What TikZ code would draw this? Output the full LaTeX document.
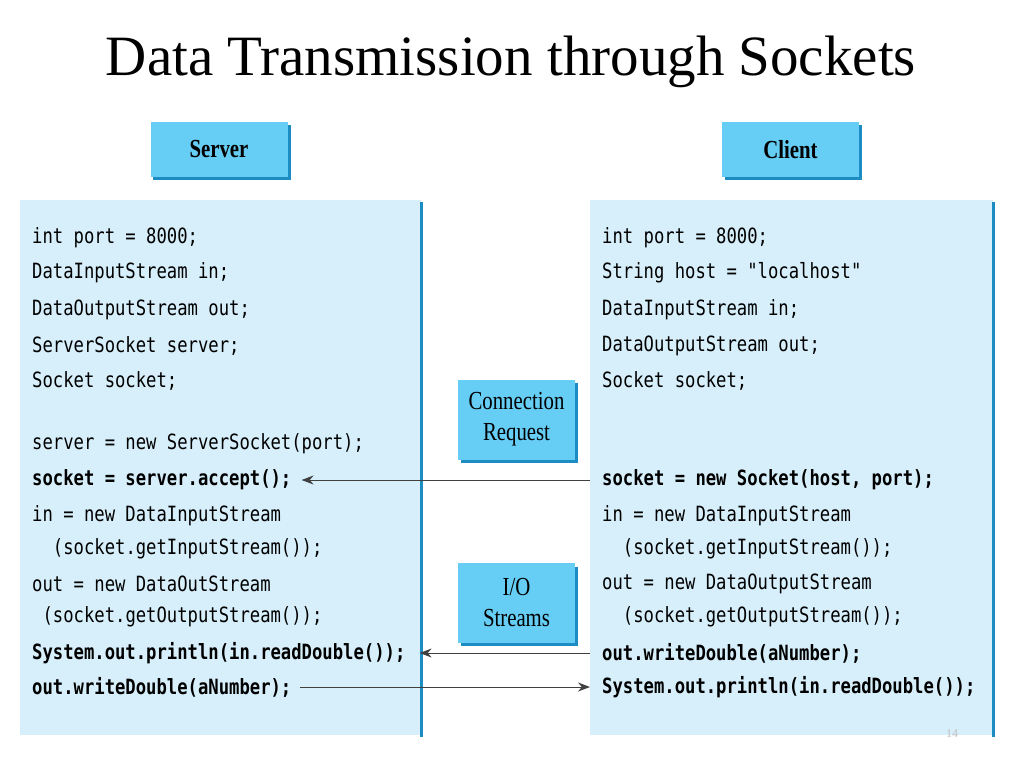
\documentclass[tikz,border=0pt]{standalone}
\usepackage{fontspec}
\setmainfont{Liberation Serif}
\newfontfamily\codefont{DejaVu Sans Mono}[FakeStretch=0.82]
\newfontfamily\boxfont{Liberation Serif}[FakeStretch=0.8]
\usetikzlibrary{arrows.meta}
\definecolor{panelblue}{HTML}{D6EFFB}
\definecolor{boxblue}{HTML}{66CDF5}
\definecolor{edgeblue}{HTML}{1C8CC2}
\newcommand{\codesize}{\fontsize{21}{21}\selectfont}

\begin{document}
\begin{tikzpicture}[x=1pt,y=-1pt,
    label box/.style={draw=none,fill=boxblue,minimum width=137,minimum height=55,
        inner sep=0pt,font=\boxfont\fontsize{26}{26}\selectfont\bfseries},
    mid box/.style={fill=boxblue,minimum width=117,minimum height=80,inner sep=0pt,
        align=center,font=\boxfont\fontsize{26}{31}\selectfont},
    code/.style={anchor=west,inner sep=0pt,font=\codefont\codesize},
    bold code/.style={code,font=\codefont\codesize\bfseries},
    link/.style={-{Stealth[length=12pt,width=9pt]},line width=1pt,draw=black!75}]
    \useasboundingbox (0,0) rectangle (1024,768);
    \node (title) at (511,62) {\fontsize{57}{57}\selectfont Data Transmission through Sockets};

    % header boxes
    \begin{scope}[every node/.style={label box}]
        \fill[edgeblue] (153,125) rectangle (291,180);
        \node (srv) at (219,149.5) {Server};
        \fill[edgeblue] (725,125) rectangle (862,180);
        \node (cli) at (790.5,149.5) {Client};
    \end{scope}

    % panels
    \fill[panelblue] (20,200) rectangle (421,735);
    \draw[edgeblue,line width=3pt] (421,202) -- (421,737);
    \fill[panelblue] (590,200) rectangle (993,735);
    \draw[edgeblue,line width=3pt] (993,202) -- (993,737);
    \coordinate (cpanel) at (590,0);

    % middle boxes
    \fill[edgeblue] (461,383) rectangle (578,463);
    \node[mid box] (req) at (516.5,419.5) {Connection\\Request};
    \fill[edgeblue] (461,567) rectangle (578,646);
    \node[mid box] (io) at (516.5,603) {I/O\\Streams};

    % server code
    \node[code] (s1) at (32,238) {int port = 8000;};
    \node[code] (s2) at (32,273) {DataInputStream in;};
    \node[code] (s3) at (32,310) {DataOutputStream out;};
    \node[code] (s4) at (32,346) {ServerSocket server;};
    \node[code] (s5) at (32,381) {Socket socket;};
    \node[code] (s6) at (32,444) {server = new ServerSocket(port);};
    \node[bold code] (s7) at (32,480) {socket = server.accept();};
    \node[code] (s8) at (32,516) {in = new DataInputStream};
    \node[code] (s9) at (32,549) {\ \ (socket.getInputStream());};
    \node[code] (s10) at (32,584) {out = new DataOutStream};
    \node[code] (s11) at (32,617) {\ (socket.getOutputStream());};
    \node[bold code] (s12) at (32,653) {System.out.println(in.readDouble());};
    \node[bold code] (s13) at (32,687) {out.writeDouble(aNumber);};

    % client code
    \node[code] (c1) at (602,238) {int port = 8000;};
    \node[code] (c2) at (602,273) {String host = "localhost"};
    \node[code] (c3) at (602,310) {DataInputStream in;};
    \node[code] (c4) at (602,346) {DataOutputStream out;};
    \node[code] (c5) at (602,381) {Socket socket;};
    \node[bold code] (c7) at (602,480) {socket = new Socket(host, port);};
    \node[code] (c8) at (602,516) {in = new DataInputStream};
    \node[code] (c9) at (602,549) {\ \ (socket.getInputStream());};
    \node[code] (c10) at (602,584) {out = new DataOutputStream};
    \node[code] (c11) at (602,617) {\ \ (socket.getOutputStream());};
    \node[bold code] (c12) at (602,653) {out.writeDouble(aNumber);};
    \node[bold code] (c13) at (602,687) {System.out.println(in.readDouble());};

    % connectors
    \draw[link] (c7.west -| cpanel) -- ([xshift=10pt]s7.east);
    \draw[link] (c12.west -| cpanel) -- ([xshift=14pt]s12.east);
    \draw[link] ([xshift=8pt]s13.east) -- (c13.west -| cpanel);

    \node[text=black!25,font=\fontsize{12}{12}\selectfont] (page) at (952,734) {14};
\end{tikzpicture}
\end{document}
